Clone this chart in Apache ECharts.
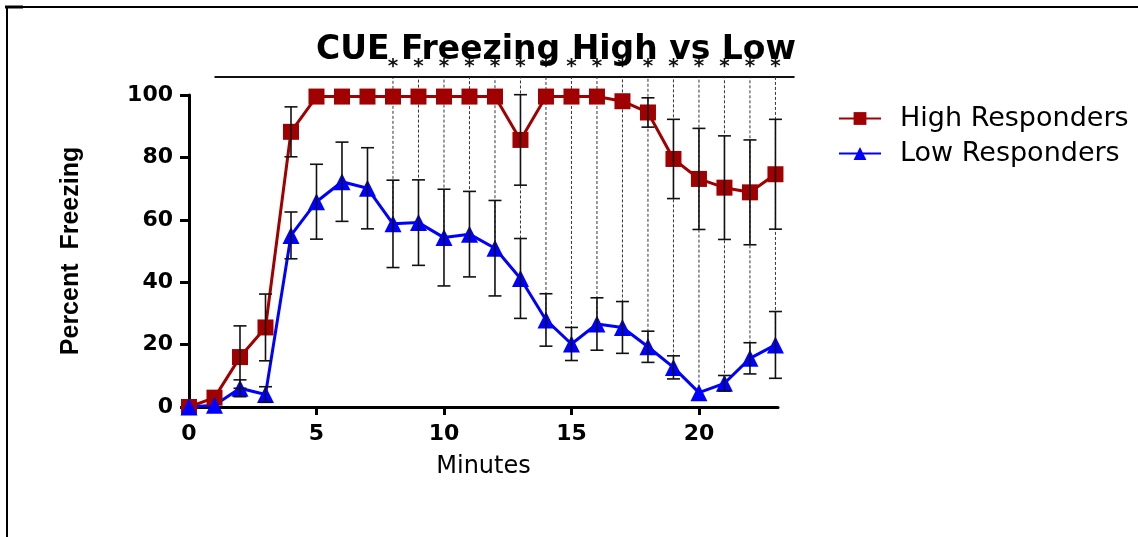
<!DOCTYPE html>
<html>
<head>
<meta charset="utf-8">
<script src="https://cdn.jsdelivr.net/npm/echarts@6/dist/echarts.min.js"></script>
<style>
  html, body { margin: 0; padding: 0; background: #fff; }
  #main { width: 1138px; height: 537px; }
</style>
</head>
<body>
<div id="main"></div>
<script>
// minutes 0..23
var minutes = [0, 1, 2, 3, 4, 5, 6, 7, 8, 9, 10, 11, 12, 13, 14, 15, 16, 17, 18, 19, 20, 21, 22, 23];
var highMean = [0, 3, 16, 25.5, 88.2, 99.5, 99.5, 99.5, 99.5, 99.5, 99.5, 99.5, 99.5, 85.6, 99.5, 99.5, 99.5, 98, 94.4, 79.5, 73.1, 70.3, 68.8, 74.6];
var highErr = [0, 0, 10, 10.7, 8, 0, 0, 0, 0, 0, 0, 0, 0, 14.5, 0, 0, 0, 0, 4.7, 12.7, 16.2, 16.6, 16.8, 17.6];
var lowMean = [0, 0.6, 6, 4, 55, 65.8, 72.2, 70.1, 58.7, 59.1, 54.3, 55.4, 50.9, 41.2, 27.9, 20.2, 26.6, 25.5, 19.3, 12.7, 4.6, 7.6, 15.6, 19.9];
var lowErr = [0, 0, 2.7, 2.5, 7.5, 12, 12.7, 13, 14, 13.7, 15.5, 13.7, 15.3, 12.8, 8.4, 5.3, 8.4, 8.3, 5, 3.7, 0, 2.5, 5, 10.7];
// minutes marked significant (*)
var sigMinutes = [8, 9, 10, 11, 12, 13, 14, 15, 16, 17, 18, 19, 20, 21, 22, 23];
var xTicks = [0, 5, 10, 15, 20];

var chart = echarts.init(document.getElementById('main'));

var highData = minutes.map(function (m, i) { return [m, highMean[i]]; });
var lowData = minutes.map(function (m, i) { return [m, lowMean[i]]; });

function errRows(means, errs) {
  var rows = [];
  minutes.forEach(function (m, i) {
    if (errs[i] > 0) rows.push([m, means[i] - errs[i], means[i] + errs[i]]);
  });
  return rows;
}
var errData = errRows(highMean, highErr).concat(errRows(lowMean, lowErr));

var sigData = sigMinutes.map(function (m) {
  return [m, lowMean[minutes.indexOf(m)]];
});

var bracketY = 105.8;
var starY = 109;

function renderErr(params, api) {
  var x = api.value(0);
  var top = api.coord([x, api.value(2)]);
  var bot = api.coord([x, api.value(1)]);
  var w = 6.5;
  var st = { stroke: '#111', lineWidth: 1.6 };
  return {
    type: 'group',
    children: [
      { type: 'line', shape: { x1: top[0], y1: top[1], x2: bot[0], y2: bot[1] }, style: st },
      { type: 'line', shape: { x1: top[0] - w, y1: top[1], x2: top[0] + w, y2: top[1] }, style: st },
      { type: 'line', shape: { x1: bot[0] - w, y1: bot[1], x2: bot[0] + w, y2: bot[1] }, style: st }
    ]
  };
}

function renderSig(params, api) {
  var x = api.value(0);
  var p0 = api.coord([x, api.value(1)]);
  var p1 = api.coord([x, bracketY]);
  var ps = api.coord([x, starY]);
  var children = [
    { type: 'line', shape: { x1: p0[0], y1: p0[1], x2: p1[0], y2: p1[1] },
      style: { stroke: '#333', lineWidth: 1, lineDash: [3, 2] } },
    { type: 'text', x: ps[0], y: ps[1],
      style: { text: '*', textAlign: 'center', textVerticalAlign: 'middle',
               font: 'bold 20px "DejaVu Sans"', fill: '#111' } }
  ];
  if (params.dataIndex === 0) {
    var a = api.coord([1, bracketY]);
    var b = api.coord([23.75, bracketY]);
    children.push({ type: 'line', shape: { x1: a[0], y1: a[1], x2: b[0], y2: b[1] },
      style: { stroke: '#111', lineWidth: 2 } });
  }
  return { type: 'group', children: children };
}

var option = {
  backgroundColor: '#fff',
  animation: false,
  title: {
    text: 'CUE Freezing High vs Low',
    left: 551,
    top: 29,
    textAlign: 'center',
    textStyle: { fontFamily: 'DejaVu Sans', fontWeight: 'bold', fontSize: 33, color: '#000' }
  },
  legend: {
    orient: 'vertical',
    left: 833,
    top: 100,
    itemWidth: 42,
    itemHeight: 16,
    itemGap: 8,
    data: ['High Responders', 'Low Responders'],
    textStyle: { fontFamily: 'DejaVu Sans', fontSize: 27, color: '#000', padding: [0, 0, 0, 14] }
  },
  grid: { left: 189, right: 360, top: 95, bottom: 130 },
  xAxis: {
    type: 'value',
    min: 0,
    max: 23.1,
    name: 'Minutes',
    nameLocation: 'middle',
    nameGap: 48,
    nameTextStyle: { fontFamily: 'DejaVu Sans', fontSize: 24, color: '#000' },
    splitLine: { show: false },
    axisLine: { lineStyle: { color: '#000', width: 3 } },
    axisTick: { customValues: xTicks, length: 8, lineStyle: { width: 3, color: '#000' } },
    axisLabel: { customValues: xTicks, margin: 16, fontFamily: 'DejaVu Sans', fontWeight: 'bold', fontSize: 22, color: '#000' }
  },
  yAxis: {
    type: 'value',
    min: 0,
    max: 100,
    interval: 20,
    name: 'Percent  Freezing',
    nameLocation: 'middle',
    nameGap: 105,
    nameTextStyle: { fontFamily: 'Liberation Sans', fontWeight: 'bold', fontSize: 25, color: '#000' },
    splitLine: { show: false },
    axisLine: { show: true, lineStyle: { color: '#000', width: 3 } },
    axisTick: { show: true, length: 9, lineStyle: { width: 3, color: '#000' } },
    axisLabel: { margin: 16, fontFamily: 'DejaVu Sans', fontWeight: 'bold', fontSize: 22, color: '#000' }
  },
  graphic: [
    { type: 'line', shape: { x1: 5, y1: 7, x2: 1138, y2: 7 }, style: { stroke: '#000', lineWidth: 2 } },
    { type: 'line', shape: { x1: 7, y1: 6, x2: 7, y2: 537 }, style: { stroke: '#000', lineWidth: 2 } },
    { type: 'line', shape: { x1: 5, y1: 7, x2: 23, y2: 7 }, style: { stroke: '#000', lineWidth: 3 } }
  ],
  series: [
    {
      type: 'custom',
      name: 'sig',
      renderItem: renderSig,
      data: sigData,
      clip: false,
      z: 1,
      silent: true
    },
    {
      type: 'line',
      name: 'High Responders',
      data: highData,
      clip: false,
      symbol: 'rect',
      symbolSize: 16,
      color: '#a00000',
      lineStyle: { width: 3, color: '#a00000' },
      z: 3
    },
    {
      type: 'line',
      name: 'Low Responders',
      data: lowData,
      clip: false,
      symbol: 'triangle',
      symbolSize: 17,
      color: '#0000ff',
      lineStyle: { width: 3, color: '#0000ff' },
      z: 3
    },
    {
      type: 'custom',
      name: 'err',
      renderItem: renderErr,
      data: errData,
      clip: false,
      z: 5,
      silent: true
    }
  ]
};

chart.setOption(option);
</script>
</body>
</html>
